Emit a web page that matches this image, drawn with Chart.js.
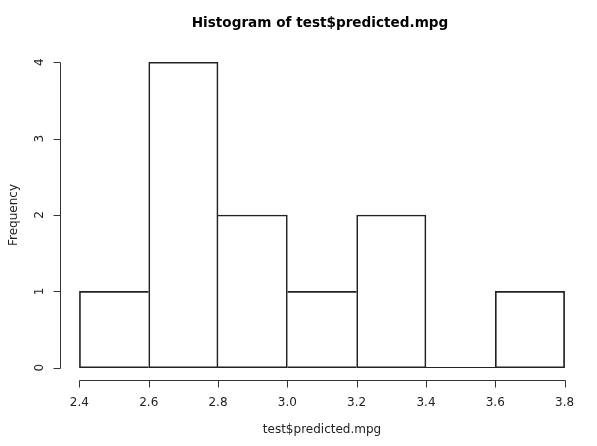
<!DOCTYPE html>
<html>
<head>
<meta charset="utf-8">
<script src="https://cdn.jsdelivr.net/npm/chart.js@4/dist/chart.umd.min.js"></script>
<style>
html,body{margin:0;padding:0;background:#fff;}
#wrap{width:597px;height:446px;}
</style>
</head>
<body>
<div id="wrap"><canvas id="c" width="597" height="446"></canvas></div>
<script>
const binEdges = [2.4, 2.6, 2.8, 3.0, 3.2, 3.4, 3.6, 3.8];
const counts = [1, 4, 2, 1, 2, 0, 1];
const xTicks = [2.4, 2.6, 2.8, 3.0, 3.2, 3.4, 3.6, 3.8];
const xTickLabels = ["2.4", "2.6", "2.8", "3.0", "3.2", "3.4", "3.6", "3.8"];
const yTicks = [0, 1, 2, 3, 4];
const titleText = "Histogram of test$predicted.mpg";
const xLabel = "test$predicted.mpg";
const yLabel = "Frequency";

const barData = counts.map((c, i) => ({ x: (binEdges[i] + binEdges[i + 1]) / 2, y: c }));
const xMin = binEdges[0], xMax = binEdges[binEdges.length - 1];
const yMax = Math.max(...yTicks);
const xPad = (xMax - xMin) * 0.04, yPad = yMax * 0.04;

// shared edges are drawn once, by the taller neighbour
function edgeWidths(ctx) {
  const i = ctx.dataIndex;
  const c = counts[i];
  const left = (i === 0 || counts[i - 1] <= c) ? 1 : 0;
  const right = (i === counts.length - 1 || counts[i + 1] < c) ? 1 : 0;
  return { top: 1, bottom: 1, left: left, right: right };
}

const rAxes = {
  id: 'rAxes',
  afterDatasetsDraw(chart) {
    const ctx = chart.ctx;
    const xs = chart.scales.x, ys = chart.scales.y;
    ctx.save();
    ctx.strokeStyle = '#222';
    ctx.lineWidth = 1;
    const by = Math.round(ys.getPixelForValue(0)) - 0.5;
    ctx.beginPath();
    counts.forEach((c, i) => {
      if (c === 0) {
        ctx.moveTo(xs.getPixelForValue(binEdges[i]), by);
        ctx.lineTo(xs.getPixelForValue(binEdges[i + 1]), by);
      }
    });
    ctx.stroke();
    ctx.restore();
  },
  afterDraw(chart) {
    const ctx = chart.ctx;
    const xs = chart.scales.x, ys = chart.scales.y;
    const area = chart.chartArea;
    ctx.save();
    ctx.strokeStyle = '#333';
    ctx.lineWidth = 1;
    ctx.fillStyle = '#222';
    const ay = Math.round(area.bottom) + 0.5;
    ctx.beginPath();
    ctx.moveTo(Math.round(xs.getPixelForValue(xTicks[0])) + 0.5, ay);
    ctx.lineTo(Math.round(xs.getPixelForValue(xTicks[xTicks.length - 1])) + 0.5, ay);
    xTicks.forEach(v => {
      const px = Math.round(xs.getPixelForValue(v)) + 0.5;
      ctx.moveTo(px, ay);
      ctx.lineTo(px, ay + 7);
    });
    ctx.stroke();
    ctx.font = '12px "DejaVu Sans"';
    ctx.textAlign = 'center';
    ctx.textBaseline = 'middle';
    xTicks.forEach((v, i) => {
      ctx.fillText(xTickLabels[i], xs.getPixelForValue(v), ay + 22);
    });
    const ax = Math.round(area.left) + 0.5;
    ctx.beginPath();
    ctx.moveTo(ax, Math.round(ys.getPixelForValue(yTicks[0])) + 0.5);
    ctx.lineTo(ax, Math.round(ys.getPixelForValue(yTicks[yTicks.length - 1])) + 0.5);
    yTicks.forEach(v => {
      const py = Math.round(ys.getPixelForValue(v)) + 0.5;
      ctx.moveTo(ax, py);
      ctx.lineTo(ax - 7, py);
    });
    ctx.stroke();
    yTicks.forEach(v => {
      ctx.save();
      ctx.translate(ax - 21, ys.getPixelForValue(v));
      ctx.rotate(-Math.PI / 2);
      ctx.fillText(String(v), 0, 0);
      ctx.restore();
    });
    const cx = (area.left + area.right) / 2;
    ctx.fillText(xLabel, cx, ay + 49);
    ctx.save();
    ctx.translate(14, (area.top + area.bottom) / 2);
    ctx.rotate(-Math.PI / 2);
    ctx.fillText(yLabel, 0, 0);
    ctx.restore();
    ctx.fillStyle = '#000';
    ctx.font = 'bold 13.6px "DejaVu Sans"';
    ctx.fillText(titleText, cx - 2, 23);
    ctx.restore();
  }
};

new Chart(document.getElementById('c'), {
  type: 'bar',
  data: {
    datasets: [{
      data: barData,
      backgroundColor: 'rgba(0,0,0,0)',
      borderColor: '#222',
      borderWidth: edgeWidths,
      borderSkipped: false,
      barPercentage: 1,
      categoryPercentage: 1
    }]
  },
  options: {
    responsive: false,
    animation: false,
    devicePixelRatio: 1,
    layout: { padding: { left: 60, top: 50, right: 13, bottom: 66 } },
    plugins: { legend: { display: false }, tooltip: { enabled: false }, title: { display: false } },
    scales: {
      x: { type: 'linear', offset: false, min: xMin - xPad, max: xMax + xPad, display: false },
      y: { type: 'linear', min: -yPad, max: yMax + yPad, display: false }
    }
  },
  plugins: [rAxes]
});
</script>
</body>
</html>
